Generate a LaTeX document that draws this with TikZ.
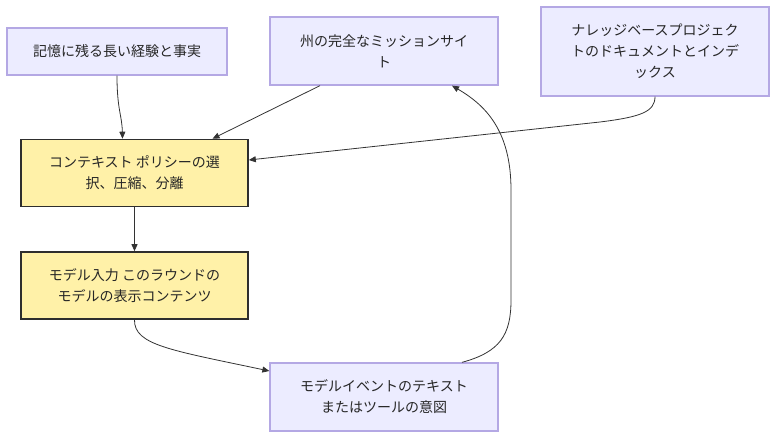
\documentclass[tikz,border=0pt]{standalone}
\usepackage{fontspec}
\setmainfont{Noto Sans CJK JP}
\usepackage{xcolor}
\usetikzlibrary{arrows.meta, positioning, calc}

\definecolor{srcfill}{HTML}{ECECFF}
\definecolor{srcline}{HTML}{B4A8E4}
\definecolor{ctxfill}{HTML}{FFF1A8}
\definecolor{ctxline}{HTML}{2E2E2E}
\definecolor{edgeline}{HTML}{333333}

\begin{document}
\begin{tikzpicture}[x=1pt, y=-1pt,
    every node/.style={font=\fontsize{14}{21}\selectfont, align=center, inner sep=0pt, text=black!85},
    srcbox/.style={draw=srcline, fill=srcfill, line width=1.3pt, minimum width=228pt, minimum height=68pt},
    ctxbox/.style={draw=ctxline, fill=ctxfill, line width=1.6pt, minimum width=227pt, minimum height=67pt},
    flow/.style={draw=edgeline, line width=0.8pt, -{Triangle[length=7pt, width=6pt]}}]
  % canvas, pixel units of the reference (y grows downwards)
  \useasboundingbox (0,0) rectangle (784,444);
  % sources on top row
  \node[srcbox, minimum width=220pt, minimum height=47pt] (memory) at (117,51.5) {記憶に残る長い経験と事実};
  \node[srcbox] (mission) at (384,51) {州の完全なミッションサイ\\ト};
  \node[srcbox, minimum height=89pt] (kbase) at (655,51.5) {ナレッジベースプロジェク\\トのドキュメントとインデ\\ックス};
  % context pipeline
  \node[ctxbox] (policy) at (134.5,173) {コンテキスト ポリシーの選\\択、圧縮、分離};
  \node[ctxbox] (modelin) at (134.5,285.5) {モデル入力 このラウンドの\\モデルの表示コンテンツ};
  \node[srcbox] (event) at (384,397) {モデルイベントのテキスト\\またはツールの意図};
  % edges
  \draw[flow] (memory.south) .. controls (117,110) and (122,115) .. ([xshift=-12pt]policy.north);
  \draw[flow] ([xshift=-64pt]mission.south) -- ([xshift=78pt]policy.north);
  \draw[flow] (kbase.south) .. controls (655,112) and (640,117) .. (600,122) -- ([yshift=13pt]policy.east);
  \draw[flow] (policy.south) -- (modelin.north);
  \draw[flow] (modelin.south) .. controls (134,345) and (170,350) .. ([yshift=26pt]event.west);
  \draw[flow] ([xshift=78pt]event.north) .. controls (500,352) and (511,335) .. (511,300)
    -- (511,190) .. controls (511,130) and (485,105) .. ([xshift=68pt]mission.south);
\end{tikzpicture}
\end{document}
